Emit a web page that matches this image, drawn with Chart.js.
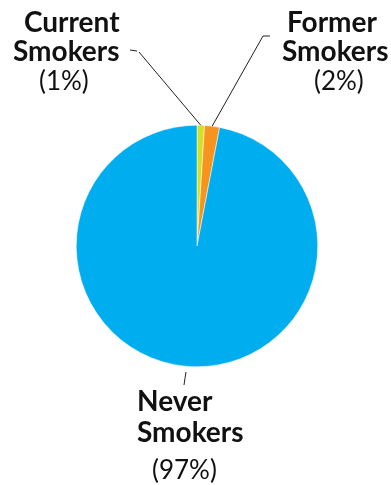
<!DOCTYPE html>
<html>
<head>
<meta charset="utf-8">
<script src="https://cdn.jsdelivr.net/npm/chart.js@4.4.1/dist/chart.umd.min.js"></script>
<style>
  html, body { margin: 0; padding: 0; background: #fff; }
  canvas { display: block; }
</style>
</head>
<body>
<canvas id="chart" width="391" height="485"></canvas>
<script>
const categories = ['Current Smokers', 'Former Smokers', 'Never Smokers'];
const values = [1, 2, 97];
const colors = ['#D7DF23', '#F7941D', '#00AEEF'];

// where each label line sits (left x, baseline y)
const labelPos = [
    [[24, 32], [13, 61], [39, 90]],
    [[287, 32], [282, 61], [314, 90]],
    [[137, 411], [137, 442], [152, 479]]
];
// text end of each leader line
const leaderText = [
    [[130, 50], [137, 51]],
    [[270, 36], [263, 36]],
    [[184, 385], [186, 372]]
];

const labelPlugin = {
    id: 'labels',
    afterDraw(chart) {
        const ctx = chart.ctx;
        const arcs = chart.getDatasetMeta(0).data;
        ctx.save();
        ctx.strokeStyle = '#231f20';
        ctx.lineWidth = 1;
        arcs.forEach((arc, i) => {
            const mid = (arc.startAngle + arc.endAngle) / 2;
            const r = arc.outerRadius + (i === 2 ? 4 : 0);
            const px = arc.x + Math.cos(mid) * r;
            const py = arc.y + Math.sin(mid) * r;
            const pts = leaderText[i];
            ctx.beginPath();
            if (i === 2) {
                ctx.moveTo(pts[0][0], pts[0][1]);
                ctx.quadraticCurveTo(pts[1][0] - 1, pts[1][1] + 6, pts[1][0], pts[1][1]);
            } else {
                ctx.moveTo(pts[0][0], pts[0][1]);
                ctx.lineTo(pts[1][0], pts[1][1]);
                ctx.moveTo(pts[1][0] + (i === 0 ? 2 : 0), pts[1][1] + (i === 0 ? 1 : 0));
                ctx.lineTo(px, py);
            }
            ctx.stroke();

            const words = categories[i].split(' ');
            const lines = [words[0], words[1], '(' + values[i] + '%)'];
            ctx.fillStyle = '#111';
            ctx.textAlign = 'left';
            ctx.textBaseline = 'alphabetic';
            lines.forEach((t, j) => {
                ctx.font = j < 2 ? 'bold 28px Lato, sans-serif' : '26px Lato, sans-serif';
                ctx.fillText(t, labelPos[i][j][0], labelPos[i][j][1]);
            });
        });
        ctx.restore();
    }
};

new Chart(document.getElementById('chart'), {
    type: 'pie',
    data: {
        labels: categories,
        datasets: [{
            data: values,
            backgroundColor: colors,
            borderColor: '#ffffff',
            borderWidth: 0.5
        }]
    },
    options: {
        responsive: false,
        animation: false,
        layout: { padding: { left: 76, right: 73, top: 125, bottom: 118 } },
        plugins: { legend: { display: false }, tooltip: { enabled: false } }
    },
    plugins: [labelPlugin]
});
</script>
</body>
</html>
